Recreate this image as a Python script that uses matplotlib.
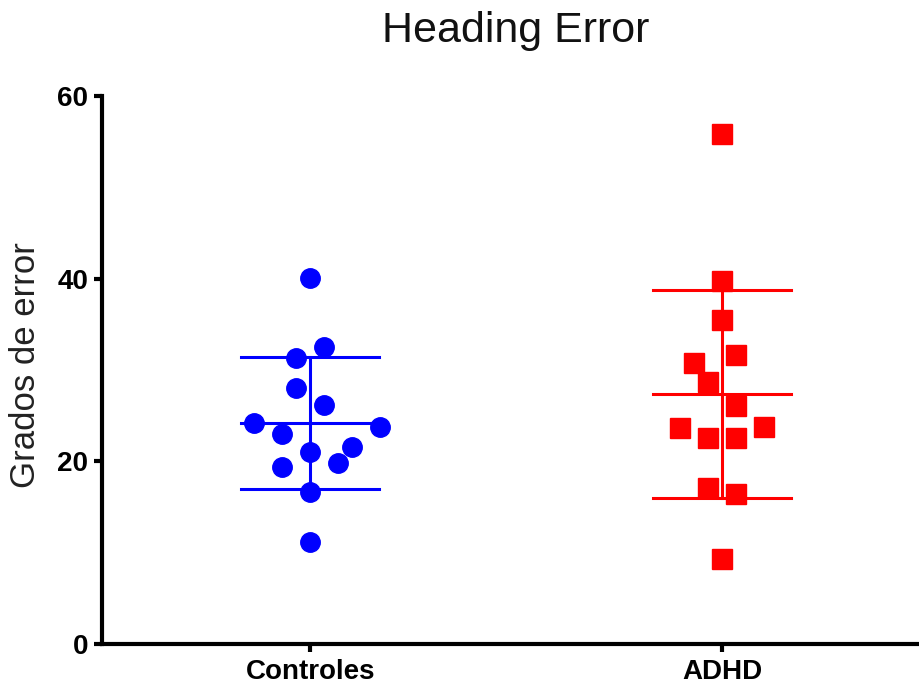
import numpy as np
import matplotlib
matplotlib.use("Agg")
import matplotlib.pyplot as plt

plt.rcParams['font.family'] = ['Liberation Sans', 'DejaVu Sans']

# datos por grupo (grados de error)
grupos = ['Controles', 'ADHD']
controles = [40.1, 32.5, 31.3, 28.0, 26.2, 24.2, 23.8, 23.0, 21.0, 21.6, 19.4, 19.8, 16.6, 11.2]
adhd = [55.8, 39.7, 35.5, 30.8, 31.6, 28.7, 26.1, 23.6, 22.6, 22.6, 23.8, 17.1, 16.4, 9.3]
# columna de cada punto dentro del enjambre
col_controles = [0, 1, -1, -1, 1, -4, 5, -2, 0, 3, -2, 2, 0, 0]
col_adhd = [0, 0, 0, -2, 1, -1, 1, -3, -1, 1, 3, -1, 1, 0]
yticks = [0, 20, 40, 60]

colores = ['#0000ff', '#ff0000']
marcadores = ['o', 's']
paso = 0.034     # separacion horizontal entre columnas
media_w = 0.167  # semiancho de las barras de media/DE

fig = plt.figure(figsize=(9.2, 6.88), dpi=100)
ax = fig.add_axes([0.111, 0.064, 0.887, 0.7965])

series = [(controles, col_controles), (adhd, col_adhd)]
for i, (vals, cols) in enumerate(series):
    vals = np.array(vals)
    xs = i + np.array(cols) * paso
    m = vals.mean()
    sd = vals.std(ddof=1)
    c = colores[i]
    for yv in (m - sd, m, m + sd):
        ax.plot([i - media_w, i + media_w], [yv, yv], color=c, lw=2.2, zorder=2)
    ax.plot([i, i], [m - sd, m + sd], color=c, lw=2.2, zorder=2)
    ax.plot(xs, vals, linestyle='none', marker=marcadores[i], ms=14,
            color=c, mec=c, zorder=3)

ax.set_xlim(-0.505, 1.476)
ax.set_ylim(0, 60)
ax.set_xticks([0, 1])
ax.set_xticklabels(grupos, fontsize=20, fontweight='bold')
ax.set_yticks(yticks)
ax.set_yticklabels([str(t) for t in yticks], fontsize=20, fontweight='bold')

for s in ['top', 'right']:
    ax.spines[s].set_visible(False)
for s in ['left', 'bottom']:
    ax.spines[s].set_linewidth(3)
    ax.spines[s].set_capstyle('projecting')
ax.tick_params(axis='both', width=3, length=6, color='black')
ax.tick_params(axis='y', pad=4)
ax.tick_params(axis='x', pad=5)

fig.text(0.56, 0.955, 'Heading Error', fontsize=31, ha='center', va='center', color='#111111')
fig.text(0.028, 0.47, 'Grados de error', fontsize=25, rotation=90,
         ha='center', va='center', color='#222222')

fig.savefig('out.png', dpi=100)
